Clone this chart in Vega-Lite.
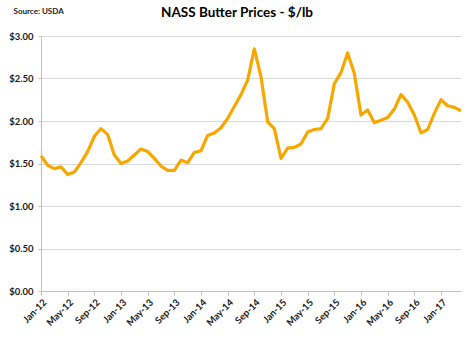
{
  "$schema": "https://vega.github.io/schema/vega-lite/v6.json",
  "width": 420,
  "height": 255,
  "autosize": {"type": "none"},
  "padding": {"left": 41, "top": 36, "right": 13, "bottom": 50},
  "background": "white",
  "config": {
    "font": "Lato",
    "view": {"stroke": null},
    "axis": {"labelFont": "Lato", "labelFontWeight": "bold", "labelColor": "#1a1a1a", "labelFontSize": 9.5}
  },
  "title": {
    "text": "NASS Butter Prices - $/lb",
    "font": "Lato",
    "fontSize": 13.5,
    "fontWeight": "bold",
    "color": "#000000",
    "anchor": "middle",
    "dx": -14,
    "offset": -12
  },
  "data": {
    "values": [
      {"month": "Jan-12", "price": 1.59},
      {"month": "Feb-12", "price": 1.48},
      {"month": "Mar-12", "price": 1.44},
      {"month": "Apr-12", "price": 1.46},
      {"month": "May-12", "price": 1.37},
      {"month": "Jun-12", "price": 1.40},
      {"month": "Jul-12", "price": 1.51},
      {"month": "Aug-12", "price": 1.64},
      {"month": "Sep-12", "price": 1.82},
      {"month": "Oct-12", "price": 1.91},
      {"month": "Nov-12", "price": 1.84},
      {"month": "Dec-12", "price": 1.60},
      {"month": "Jan-13", "price": 1.50},
      {"month": "Feb-13", "price": 1.53},
      {"month": "Mar-13", "price": 1.60},
      {"month": "Apr-13", "price": 1.67},
      {"month": "May-13", "price": 1.64},
      {"month": "Jun-13", "price": 1.56},
      {"month": "Jul-13", "price": 1.47},
      {"month": "Aug-13", "price": 1.42},
      {"month": "Sep-13", "price": 1.42},
      {"month": "Oct-13", "price": 1.54},
      {"month": "Nov-13", "price": 1.51},
      {"month": "Dec-13", "price": 1.63},
      {"month": "Jan-14", "price": 1.65},
      {"month": "Feb-14", "price": 1.83},
      {"month": "Mar-14", "price": 1.86},
      {"month": "Apr-14", "price": 1.92},
      {"month": "May-14", "price": 2.03},
      {"month": "Jun-14", "price": 2.17},
      {"month": "Jul-14", "price": 2.31},
      {"month": "Aug-14", "price": 2.48},
      {"month": "Sep-14", "price": 2.85},
      {"month": "Oct-14", "price": 2.52},
      {"month": "Nov-14", "price": 1.99},
      {"month": "Dec-14", "price": 1.91},
      {"month": "Jan-15", "price": 1.56},
      {"month": "Feb-15", "price": 1.68},
      {"month": "Mar-15", "price": 1.69},
      {"month": "Apr-15", "price": 1.73},
      {"month": "May-15", "price": 1.87},
      {"month": "Jun-15", "price": 1.90},
      {"month": "Jul-15", "price": 1.91},
      {"month": "Aug-15", "price": 2.03},
      {"month": "Sep-15", "price": 2.44},
      {"month": "Oct-15", "price": 2.57},
      {"month": "Nov-15", "price": 2.80},
      {"month": "Dec-15", "price": 2.56},
      {"month": "Jan-16", "price": 2.07},
      {"month": "Feb-16", "price": 2.13},
      {"month": "Mar-16", "price": 1.98},
      {"month": "Apr-16", "price": 2.01},
      {"month": "May-16", "price": 2.04},
      {"month": "Jun-16", "price": 2.14},
      {"month": "Jul-16", "price": 2.31},
      {"month": "Aug-16", "price": 2.22},
      {"month": "Sep-16", "price": 2.07},
      {"month": "Oct-16", "price": 1.86},
      {"month": "Nov-16", "price": 1.90},
      {"month": "Dec-16", "price": 2.09},
      {"month": "Jan-17", "price": 2.25},
      {"month": "Feb-17", "price": 2.18},
      {"month": "Mar-17", "price": 2.16},
      {"month": "Apr-17", "price": 2.12}
    ]
  },
  "mark": {"type": "line", "color": "#F7A800", "strokeWidth": 3.2, "strokeJoin": "round"},
  "encoding": {
    "x": {
      "field": "month",
      "type": "ordinal",
      "sort": null,
      "scale": {"type": "point", "padding": 0},
      "axis": {
        "title": null,
        "values": ["Jan-12", "May-12", "Sep-12", "Jan-13", "May-13", "Sep-13", "Jan-14", "May-14", "Sep-14", "Jan-15", "May-15", "Sep-15", "Jan-16", "May-16", "Sep-16", "Jan-17"],
        "labelAngle": -45,
        "labelAlign": "right",
        "labelBaseline": "top",
        "labelPadding": 2,
        "domainColor": "#bfbfbf",
        "tickColor": "#bfbfbf",
        "tickSize": 4,
        "grid": false
      }
    },
    "y": {
      "field": "price",
      "type": "quantitative",
      "scale": {"domain": [0, 3], "nice": false},
      "axis": {
        "title": "Source: USDA",
        "titleAngle": 0,
        "titleAlign": "left",
        "titleBaseline": "middle",
        "titleX": -28,
        "titleY": -25,
        "titleFont": "Lato",
        "titleFontSize": 8,
        "titleFontWeight": "bold",
        "titleColor": "#1a1a1a",
        "values": [0, 0.5, 1, 1.5, 2, 2.5, 3],
        "format": "$.2f",
        "labelPadding": 5,
        "tickSize": 3,
        "domainColor": "#bfbfbf",
        "tickColor": "#bfbfbf",
        "gridColor": "#d9d9d9",
        "gridWidth": 1
      }
    }
  }
}
